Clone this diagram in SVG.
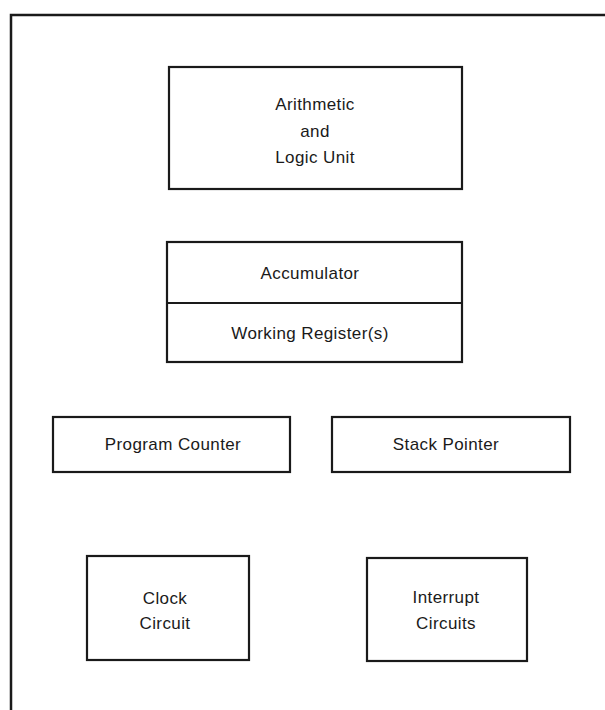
<svg xmlns="http://www.w3.org/2000/svg" width="605" height="710" viewBox="0 0 605 710">
  <style>
    .frame { fill: none; stroke: #1a1a1a; stroke-width: 2.5; }
    .box { fill: #ffffff; stroke: #1a1a1a; stroke-width: 2.2; }
    .div { stroke: #1a1a1a; stroke-width: 2; }
    .lbl { font-family: "Liberation Sans", Arial, sans-serif; font-size: 17px; letter-spacing: 0.4px; fill: #1a1a1a; text-anchor: middle; }
  </style>
  <rect width="605" height="710" fill="#ffffff"/>

  <!-- outer frame: top and left edges -->
  <path class="frame" d="M11,710 V15 H605"/>

  <g id="alu">
    <rect class="box" x="169" y="67" width="293" height="122"/>
    <text class="lbl" x="315" y="110">Arithmetic</text>
    <text class="lbl" x="315" y="137">and</text>
    <text class="lbl" x="315" y="163">Logic Unit</text>
  </g>

  <g id="registers">
    <rect class="box" x="167" y="242" width="295" height="120"/>
    <line class="div" x1="167" y1="303" x2="462" y2="303"/>
    <text class="lbl" x="310" y="279">Accumulator</text>
    <text class="lbl" x="310" y="339">Working Register(s)</text>
  </g>

  <g id="program-counter">
    <rect class="box" x="53" y="417" width="237" height="55"/>
    <text class="lbl" x="173" y="450">Program Counter</text>
  </g>

  <g id="stack-pointer">
    <rect class="box" x="332" y="417" width="238" height="55"/>
    <text class="lbl" x="446" y="450">Stack Pointer</text>
  </g>

  <g id="clock-circuit">
    <rect class="box" x="87" y="556" width="162" height="104"/>
    <text class="lbl" x="165" y="604">Clock</text>
    <text class="lbl" x="165" y="629">Circuit</text>
  </g>

  <g id="interrupt-circuits">
    <rect class="box" x="367" y="558" width="160" height="103"/>
    <text class="lbl" x="446" y="603">Interrupt</text>
    <text class="lbl" x="446" y="629">Circuits</text>
  </g>
</svg>
